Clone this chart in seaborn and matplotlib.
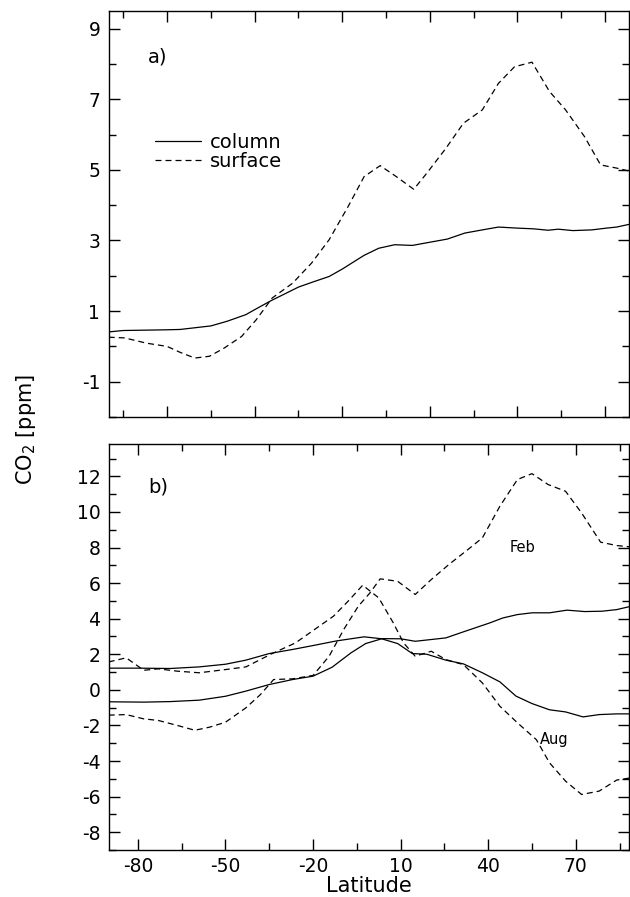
import numpy as np
import matplotlib
matplotlib.use("Agg")
import matplotlib.pyplot as plt
from matplotlib.ticker import FixedLocator, MultipleLocator
import seaborn as sns

# ---- panel a) annual mean, column vs surface
lat_col_a = [-90, -85, -70, -65.5, -55, -49.5, -43, -40, -34.5, -25, -19.5, -14.5, -10, -2.5, 2.5,
             8, 14, 20, 26, 32, 38, 43.5, 50, 55.5, 60.5, 64, 69, 75.5, 80.5, 84, 89]
col_a = [0.41, 0.45, 0.47, 0.48, 0.58, 0.71, 0.90, 1.04, 1.29, 1.68, 1.84, 1.98, 2.19, 2.58, 2.78,
         2.88, 2.86, 2.95, 3.04, 3.21, 3.30, 3.38, 3.35, 3.33, 3.29, 3.32, 3.28, 3.30, 3.35, 3.38, 3.47]

lat_srf_a = [-90, -84.5, -77, -70, -65.5, -60.5, -55.5, -50.5, -44.5, -39.5, -34, -27, -20.5, -14.5,
             -8, -2.5, 3, 8.5, 14.5, 19, 25.5, 31.5, 38, 43.5, 49, 55, 61, 66.5, 73, 78.5, 84, 89]
srf_a = [0.26, 0.24, 0.09, 0.0, -0.17, -0.33, -0.28, -0.05, 0.28, 0.75, 1.37, 1.79, 2.36, 3.02,
         3.96, 4.81, 5.12, 4.81, 4.45, 4.91, 5.61, 6.32, 6.70, 7.45, 7.92, 8.05, 7.22, 6.70, 5.94,
         5.14, 5.05, 4.95]

# ---- panel b) Feb / Aug
lat_col_feb = [-90, -80, -69, -59, -50, -43, -35, -27, -20, -12, -2.5, 3, 10, 15, 25.5, 31.5,
               40.5, 45, 50, 55, 61, 67, 73, 79, 84, 89]
col_feb = [1.22, 1.22, 1.20, 1.29, 1.44, 1.67, 2.04, 2.27, 2.49, 2.75, 2.98, 2.88, 2.87, 2.73,
           2.92, 3.26, 3.76, 4.04, 4.23, 4.33, 4.33, 4.48, 4.40, 4.42, 4.51, 4.70]

lat_col_aug = [-90, -78, -69, -59, -50, -43, -35, -27, -20, -13.5, -7, -2, 3.5, 9, 14, 19, 25.5,
               31.5, 38, 44, 49.5, 55, 61, 66.5, 72.5, 78, 84, 89]
col_aug = [-0.67, -0.69, -0.66, -0.58, -0.36, -0.07, 0.30, 0.58, 0.77, 1.27, 2.08, 2.60, 2.87,
           2.60, 2.04, 2.00, 1.67, 1.46, 0.96, 0.45, -0.35, -0.77, -1.12, -1.24, -1.52, -1.39,
           -1.35, -1.35]

lat_srf_feb = [-90, -84, -78, -73, -66.5, -60.5, -55.5, -50, -43, -38, -33.5, -27, -20, -14.5,
               -9.5, -4.5, -0.5, 3, 9, 15, 20.5, 26.5, 33, 38, 44, 50, 55, 60.5, 66.5, 72, 78.5,
               84, 89]
srf_feb = [-1.42, -1.39, -1.63, -1.72, -2.0, -2.27, -2.10, -1.82, -1.01, -0.26, 0.58, 0.62, 0.81,
           1.89, 3.39, 4.70, 5.45, 6.24, 6.10, 5.36, 6.20, 7.04, 7.88, 8.54, 10.32, 11.82, 12.15,
           11.54, 11.16, 9.94, 8.30, 8.11, 8.03]

lat_srf_aug = [-90, -84, -78, -73, -66.5, -59, -50, -43, -34, -26, -19.5, -13, -8, -3, 2.5, 7.5,
               11, 15, 20.5, 25.5, 31.5, 38, 44, 50, 56.5, 61, 66.5, 72, 78, 84, 89]
srf_aug = [1.57, 1.80, 1.10, 1.18, 1.05, 0.96, 1.14, 1.29, 2.04, 2.64, 3.39, 4.14, 4.98, 5.88,
           5.17, 3.76, 2.64, 1.89, 2.17, 1.70, 1.42, 0.39, -0.92, -1.85, -2.80, -4.10, -5.13,
           -5.88, -5.69, -5.07, -4.94]

sns.set_style("ticks")
plt.rcParams["font.family"] = ["DejaVu Sans"]
plt.rcParams["axes.unicode_minus"] = False
plt.rcParams["text.color"] = "black"
plt.rcParams["axes.labelcolor"] = "black"

W, H = 630, 897
fig = plt.figure(figsize=(W / 100, H / 100), dpi=100)
left = 108.7 / W
width = (629.5 - 108.7) / W
ax_a = fig.add_axes([left, 1 - 417 / H, width, (417 - 11) / H])
ax_b = fig.add_axes([left, 1 - 850 / H, width, (850 - 444.3) / H])

dash = (0, (4.8, 3.2))
lw = 0.9

sns.lineplot(x=lat_col_a, y=col_a, ax=ax_a, color="black", lw=lw, label="column")
sns.lineplot(x=lat_srf_a, y=srf_a, ax=ax_a, color="black", lw=lw, linestyle=dash, label="surface")

sns.lineplot(x=lat_col_feb, y=col_feb, ax=ax_b, color="black", lw=lw)
sns.lineplot(x=lat_col_aug, y=col_aug, ax=ax_b, color="black", lw=lw)
sns.lineplot(x=lat_srf_feb, y=srf_feb, ax=ax_b, color="black", lw=lw, linestyle=dash)
sns.lineplot(x=lat_srf_aug, y=srf_aug, ax=ax_b, color="black", lw=lw, linestyle=dash)

for ax in (ax_a, ax_b):
    ax.set_xlim(-90, 88.4)
    for s in ax.spines.values():
        s.set_visible(True)
        s.set_color("black")
        s.set_linewidth(1.0)
    ax.tick_params(which="both", direction="in", top=True, right=True, width=1, colors="black",
                   labelsize=13.5)
    ax.tick_params(which="major", length=8)
    ax.tick_params(which="minor", length=5)
    ax.tick_params(axis="y", pad=6)
    ax.set_ylabel("")

# panel a axes
ax_a.set_ylim(-2, 9.5)
ax_a.yaxis.set_major_locator(FixedLocator([-1, 1, 3, 5, 7, 9]))
ax_a.yaxis.set_minor_locator(MultipleLocator(1))
ax_a.xaxis.set_major_locator(FixedLocator([-70, -40, -10, 20, 50, 80]))
ax_a.xaxis.set_minor_locator(FixedLocator([-85, -55, -25, 5, 35, 65]))
ax_a.set_xticklabels([])
ax_a.set_xlabel("")

# panel b axes
ax_b.set_ylim(-9, 13.8)
ax_b.yaxis.set_major_locator(FixedLocator(np.arange(-8, 13, 2)))
ax_b.yaxis.set_minor_locator(MultipleLocator(1))
ax_b.xaxis.set_major_locator(FixedLocator([-80, -50, -20, 10, 40, 70]))
ax_b.xaxis.set_minor_locator(FixedLocator([-65, -35, -5, 25, 55, 85]))
ax_b.tick_params(axis="x", pad=5)
ax_b.set_xlabel("Latitude", fontsize=15, labelpad=0)

leg = ax_a.legend(loc="upper left", bbox_to_anchor=(0.0888, 0.700), frameon=False,
                  fontsize=14, handlelength=2.35, handletextpad=0.5, labelspacing=0.0,
                  borderpad=0, borderaxespad=0, labelcolor="black")

ax_a.text(0.0946, 0.887, "a)", transform=ax_a.transAxes, fontsize=14, ha="center", va="center")
ax_b.text(0.0946, 0.895, "b)", transform=ax_b.transAxes, fontsize=14, ha="center", va="center")
ax_b.text(51.6, 7.75, "Feb", fontsize=10.5, ha="center", va="baseline")
ax_b.text(62.6, -3.04, "Aug", fontsize=10.5, ha="center", va="baseline")

fig.text(26 / W, 1 - 429 / H, r"CO$_2$ [ppm]", rotation=90, fontsize=15, ha="center", va="center")

fig.savefig("out.png", dpi=100)
